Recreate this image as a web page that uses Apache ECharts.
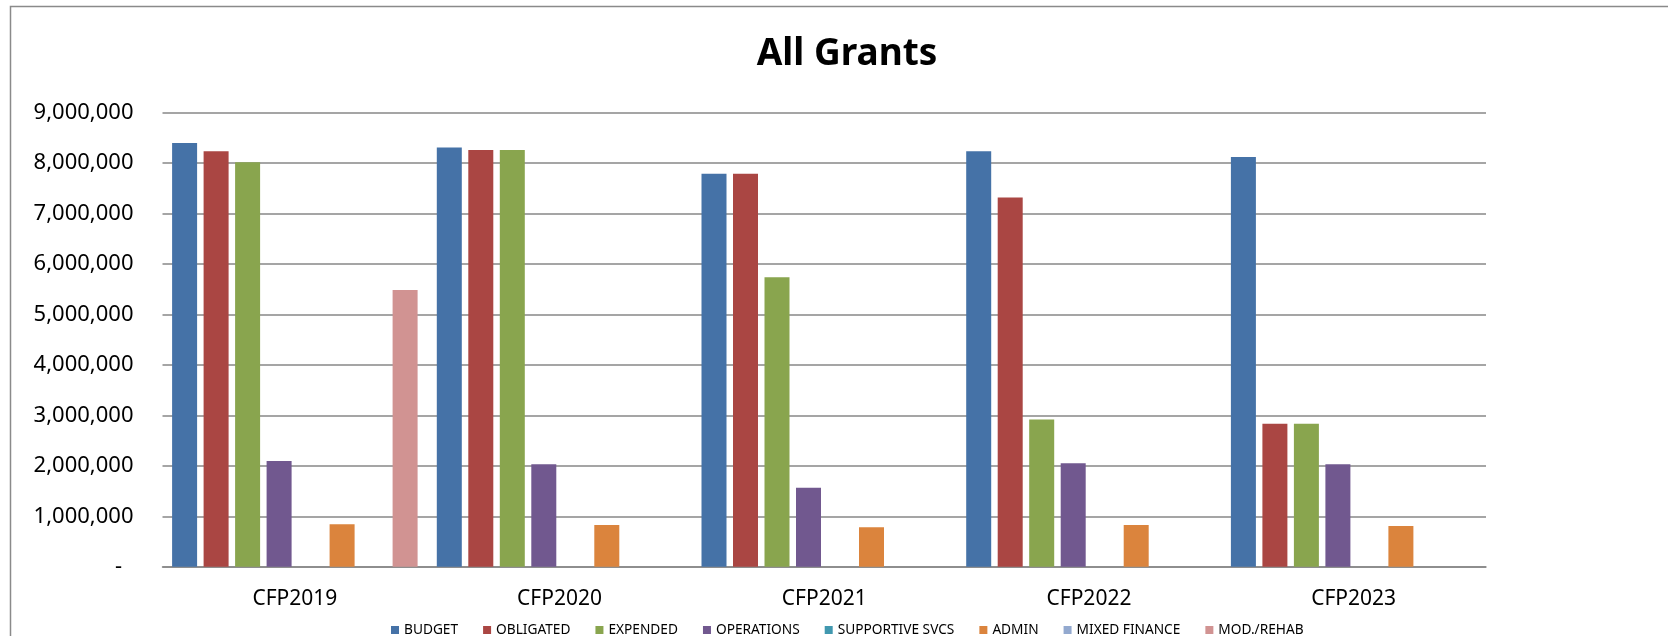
<!DOCTYPE html>
<html>
<head>
<meta charset="utf-8">
<style>
html,body{margin:0;padding:0;background:#fff;}
#chart{width:1668px;height:636px;}
</style>
<script src="https://cdn.jsdelivr.net/npm/echarts@6/dist/echarts.min.js"></script>
</head>
<body>
<div id="chart"></div>
<script>
const categories = ['CFP2019', 'CFP2020', 'CFP2021', 'CFP2022', 'CFP2023'];
const budget      = [8400000, 8310000, 7790000, 8235000, 8120000];
const obligated   = [8235000, 8260000, 7790000, 7320000, 2835000];
const expended    = [8020000, 8260000, 5740000, 2920000, 2835000];
const operations  = [2095000, 2030000, 1567000, 2050000, 2030000];
const supportive  = [0, 0, 0, 0, 0];
const admin       = [840000, 827000, 780000, 827000, 807000];
const mixedFinance= [0, 0, 0, 0, 0];
const modRehab    = [5486000, 0, 0, 0, 0];
const yTicks = [0, 1000000, 2000000, 3000000, 4000000, 5000000, 6000000, 7000000, 8000000, 9000000];

const seriesDefs = [
  ['BUDGET', budget, '#4572A7'],
  ['OBLIGATED', obligated, '#AA4643'],
  ['EXPENDED', expended, '#89A54E'],
  ['OPERATIONS', operations, '#71588F'],
  ['SUPPORTIVE SVCS', supportive, '#4198AF'],
  ['ADMIN', admin, '#DB843D'],
  ['MIXED FINANCE', mixedFinance, '#93A9CF'],
  ['MOD./REHAB', modRehab, '#D19392']
];

const font = 'Noto Sans';
const chart = echarts.init(document.getElementById('chart'), null, {renderer: 'canvas'});
chart.setOption({
  animation: false,
  backgroundColor: '#ffffff',
  title: {
    text: 'All Grants',
    left: 842,
    top: 31,
    textAlign: 'center',
    textStyle: {fontFamily: font, fontSize: 37, fontWeight: 'bold', color: '#000'}
  },
  graphic: [{
    type: 'polyline',
    shape: {points: [[10.5, 640], [10.5, 6.5], [1670, 6.5]]},
    style: {stroke: '#8a8a8a', lineWidth: 1.5, fill: null},
    silent: true
  }],
  legend: {
    left: 391,
    top: 623,
    padding: 0,
    itemWidth: 8,
    itemHeight: 8,
    itemGap: 25,
    icon: 'rect',
    textStyle: {fontFamily: font, fontSize: 13.7, color: '#000'},
    data: seriesDefs.map(d => d[0])
  },
  grid: {left: 162.5, right: 182, top: 112.7, bottom: 69.3, containLabel: false},
  xAxis: {
    type: 'category',
    data: categories,
    axisLine: {show: true, lineStyle: {color: '#878787', width: 1.5}},
    axisTick: {show: false},
    axisLabel: {fontFamily: font, fontSize: 21, color: '#000', margin: 22}
  },
  yAxis: {
    type: 'value',
    min: yTicks[0],
    max: yTicks[yTicks.length - 1],
    interval: yTicks[1] - yTicks[0],
    axisLine: {show: false},
    axisTick: {show: false},
    splitLine: {show: true, lineStyle: {color: '#878787', width: 1.5}},
    axisLabel: {
      fontFamily: font, fontSize: 22, color: '#000', margin: 29,
      formatter: v => v === 0 ? '-  ' : v.toLocaleString('en-US')
    }
  },
  series: seriesDefs.map(d => ({
    name: d[0],
    type: 'bar',
    data: d[1],
    barWidth: 25,
    barGap: '26%',
    itemStyle: {color: d[2]}
  }))
});
</script>
</body>
</html>
